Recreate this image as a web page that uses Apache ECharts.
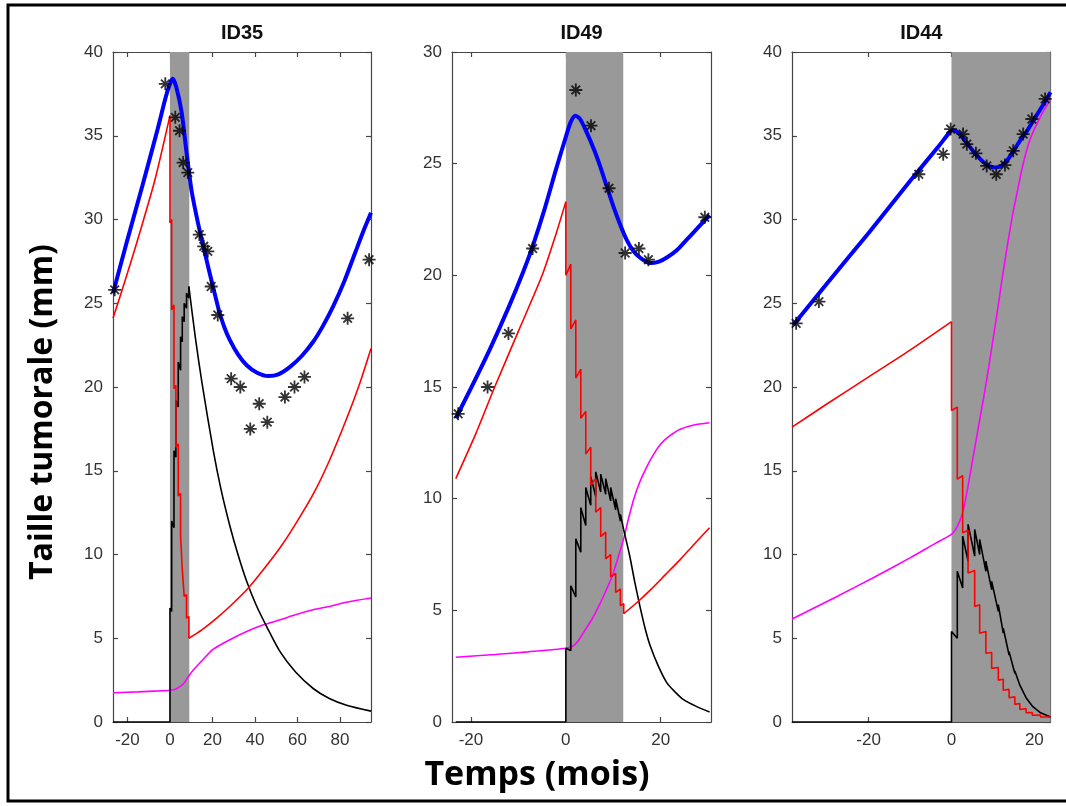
<!DOCTYPE html>
<html><head><meta charset="utf-8">
<script src="https://cdn.jsdelivr.net/npm/echarts@6/dist/echarts.min.js"></script>
<style>html,body{margin:0;padding:0;background:#fff}#c{width:1066px;height:806px}</style>
</head><body><div id="c"></div>
<script>
// ---------- DATA ----------
const panelTitles = ['ID35', 'ID49', 'ID44'];
const xRanges = [[-26.8, 94.6], [-24, 30.6], [-38.5, 23.9]];
const yMaxes = [40, 30, 40];
const xTicks = [[-20, 0, 20, 40, 60, 80], [-20, 0, 20], [-20, 0, 20]];
const treatBands = [[0, 9.1], [0, 12.1], [0, 23.9]];

// ID35
const id35_obs = [[-26,25.8],[-2.2,38.1],[2.5,36.1],[4.5,35.3],[6.2,33.4],[8.4,32.8],[13.8,29.1],[15.9,28.4],[17.8,28.1],[19.4,26.0],[22.5,24.3],[28.8,20.5],[33.1,20.0],[37.8,17.5],[42,19.0],[45.8,17.9],[54.1,19.4],[58.6,20.0],[63.3,20.6],[83.6,24.1],[93.7,27.6]];
const id35_fit = [[-26.8,25.6],[-20,28.8],[-13,32.0],[-6,35.3],[-2,37.3],[0,38.1],[1.3,38.4],[3,37.9],[5.5,36.4],[7.8,34.0],[10.2,31.7],[13,29.9],[15.7,28.4],[18.5,26.9],[21.2,25.5],[23,24.6],[25.5,23.6],[28.2,22.8],[32,21.95],[36.1,21.3],[41,20.85],[46.3,20.65],[51,20.75],[56.5,21.2],[62,21.85],[67.4,22.7],[72,23.65],[76.9,24.85],[82,26.3],[87.1,28.0],[91,29.3],[94.6,30.4]];
const id35_red_pre = [[-26.8,24.1],[-20,26.8],[-14,29.3],[-7,32.4],[0,36.2]];
const id35_red_dose = [[0,36.2],[0,29.8],[0.8,30.0],[0.8,24.6],[1.9,24.9],[1.9,19.9],[2.8,20.1],[2.8,16.4],[3.9,16.6],[3.9,13.5],[5.0,13.65],[5.0,11.1],[5.8,11.2],[5.8,9.1],[6.7,9.2],[6.7,7.5],[7.8,7.6],[7.8,6.2],[8.9,6.3],[8.9,5.0]];
const id35_red_post = [[8.9,5.0],[15,5.5],[22,6.2],[29,7.0],[36.9,8.0],[44,9.1],[51.8,10.4],[59,11.8],[67.4,13.6],[75,15.6],[83.1,18.1],[89,20.1],[94.6,22.3]];
const id35_black_dose = [[-26.8,0],[0,0],[0,6.8],[0.8,6.6],[0.8,12.0],[1.9,11.6],[1.9,16.2],[2.8,15.8],[2.8,19.2],[3.9,18.8],[3.9,21.5],[5.0,21.0],[5.0,23.0],[5.8,22.7],[5.8,24.2],[6.7,23.9],[6.7,25.0],[7.8,24.7],[7.8,25.6],[8.9,25.3],[8.9,26.0]];
const id35_black_post = [[8.9,26.0],[12,22.9],[15,20.3],[20.4,16.2],[24,13.9],[28.2,11.7],[32,10.0],[36.1,8.4],[40.5,7.0],[45.5,5.7],[51.8,4.2],[59,3.0],[67.4,2.0],[75,1.4],[83.1,1.0],[94.6,0.65]];
const id35_mag = [[-26.8,1.75],[-15,1.8],[-5,1.86],[0,1.9],[2.5,1.95],[4.5,2.1],[6.5,2.3],[8.6,2.7],[11,3.1],[15.7,3.75],[20.4,4.35],[28,4.9],[36.1,5.4],[44,5.8],[51.8,6.1],[59,6.4],[67.4,6.7],[75,6.9],[83.1,7.15],[94.6,7.4]];

// ID49
const id49_obs = [[-22.7,13.8],[-16.5,15.0],[-12.1,17.4],[-7.0,21.2],[2.1,28.3],[5.3,26.7],[9.1,23.9],[12.5,21.0],[15.4,21.2],[17.4,20.7],[29.3,22.6]];
const id49_fit = [[-23.2,13.6],[-20,14.95],[-16,16.7],[-12,18.6],[-9,20.15],[-7,21.3],[-4.5,22.95],[-2,24.8],[0,26.2],[1,26.85],[2,27.15],[3,27.0],[4.4,26.4],[6,25.6],[7.2,24.9],[8.6,24.0],[10,23.1],[11.4,22.3],[12.8,21.6],[14.2,21.1],[15.6,20.8],[17.7,20.55],[19.5,20.6],[21.3,20.8],[23.5,21.15],[25.5,21.6],[27.7,22.1],[30.3,22.7]];
const id49_red_pre = [[-23.2,10.9],[-19,12.9],[-15,15.0],[-10,17.5],[-5,20.0],[-2,21.9],[0,23.3]];
const id49_red_dose = [[0,23.3],[0,20.0],[1.05,20.5],[1.05,17.6],[2.1,18.0],[2.1,15.4],[3.15,15.8],[3.15,13.6],[4.2,13.9],[4.2,12.0],[5.25,12.3],[5.25,10.6],[6.3,10.9],[6.3,9.4],[7.35,9.6],[7.35,8.3],[8.4,8.5],[8.4,7.3],[9.45,7.5],[9.45,6.5],[10.5,6.65],[10.5,5.8],[11.5,5.95],[11.5,5.2],[12.2,5.3],[12.2,4.85]];
const id49_red_post = [[12.2,4.85],[15,5.35],[18,5.95],[21,6.6],[24,7.25],[27,7.95],[30.3,8.7]];
const id49_black_dose = [[-23.2,0],[0,0],[0,3.3],[1.05,3.2],[1.05,6.1],[2.1,5.6],[2.1,8.2],[3.15,7.6],[3.15,9.6],[4.2,8.8],[4.2,10.5],[5.25,9.7],[5.25,11.0],[6.3,10.1],[6.3,11.2],[7.35,10.3],[7.35,11.1],[8.4,10.2],[8.4,10.9],[9.45,9.9],[9.45,10.5],[10.5,9.5],[10.5,10.0],[11.5,9.0],[11.5,9.3],[12.2,8.6]];
const id49_black_post = [[12.2,8.6],[13.5,7.4],[14.5,6.3],[15.6,5.2],[16.7,4.2],[17.8,3.4],[19.5,2.5],[21.3,1.75],[23,1.35],[24.8,1.0],[27.5,0.7],[30.3,0.45]];
const id49_mag = [[-23.2,2.9],[-15,3.02],[-8,3.14],[0,3.3],[1.5,3.4],[2.5,3.6],[3.7,4.0],[5.5,4.6],[7.2,5.3],[8.5,5.9],[9.8,6.55],[11,7.35],[12.3,8.3],[13.2,9.1],[14.2,9.9],[15.5,10.7],[17,11.4],[18.4,11.95],[20,12.45],[21.8,12.8],[24,13.1],[27,13.3],[30.3,13.4]];

// ID44
const id44_obs = [[-37.5,23.8],[-32,25.1],[-7.9,32.7],[-2,33.9],[-0.2,35.4],[2.8,35.1],[3.7,34.5],[5.9,33.95],[8.5,33.2],[10.8,32.7],[12.9,33.25],[14.9,34.1],[17.3,35.1],[19.4,36.0],[22.6,37.2]];
const id44_fit = [[-38.2,23.7],[-30,26.2],[-20,29.2],[-10,32.3],[-3,34.4],[-0.8,35.1],[0.3,35.35],[1.5,35.2],[3,34.8],[4.4,34.35],[6,33.85],[7.6,33.45],[9,33.2],[10.5,33.1],[12,33.2],[13.5,33.55],[14.9,34.05],[16.5,34.7],[18,35.2],[19.5,35.8],[21,36.4],[22.5,37.0],[23.9,37.6]];
const id44_red_pre = [[-38.5,17.6],[-30,19.0],[-20,20.6],[-10,22.2],[0,23.9]];
const id44_red_dose = [[0,23.9],[0,18.6],[1.4,18.8],[1.4,14.5],[2.7,14.7],[2.7,11.3],[4.0,11.45],[4.0,8.9],[5.6,9.05],[5.6,6.9],[6.8,7.0],[6.8,5.3],[8.3,5.4],[8.3,4.1],[9.7,4.15],[9.7,3.2],[11.3,3.25],[11.3,2.5],[12.5,2.55],[12.5,1.9],[13.9,1.95],[13.9,1.45],[15.3,1.5],[15.3,1.05],[16.5,1.1],[16.5,0.75],[18,0.8],[18,0.55],[19.5,0.57],[19.5,0.4],[21.5,0.42],[21.5,0.3],[23.9,0.3]];
const id44_black_dose = [[-38.5,0],[0,0],[0,5.4],[1.4,5.0],[1.4,9.0],[2.7,8.0],[2.7,11.1],[4.0,9.6],[4.0,11.8],[5.6,9.9],[5.6,11.5],[6.8,10.0],[6.8,10.9],[8.3,9.0],[8.3,9.6],[9.7,7.9],[9.7,8.4],[11.3,6.6],[11.3,7.0],[12.5,5.3],[12.5,5.6],[13.9,4.0],[13.9,4.2],[15.3,2.9],[15.3,3.05],[16.5,2.2],[16.5,2.3],[18,1.45],[18,1.55],[19.5,0.95],[19.5,1.0],[21.5,0.55],[23.9,0.3]];
const id44_mag = [[-38.5,6.15],[-28,7.45],[-19,8.6],[-10,9.8],[-4,10.65],[0,11.2],[1,11.5],[2,12.0],[3,12.8],[4,14.1],[5,15.5],[6,16.9],[7,18.3],[8,19.7],[9,21.2],[10,22.8],[11,24.4],[12,26.1],[13,27.7],[14,29.2],[15,30.6],[16,31.8],[17,33.0],[18,34.0],[19,34.8],[20,35.4],[21,35.9],[22,36.4],[23,36.8],[23.9,37.2]];

// ---------- CHART ----------
const panels = [
  {obs: id35_obs, fit: id35_fit, redS: [id35_red_pre, id35_red_post], redL: [id35_red_dose], blackS: [id35_black_post], blackL: [id35_black_dose], mag: id35_mag},
  {obs: id49_obs, fit: id49_fit, redS: [id49_red_pre, id49_red_post], redL: [id49_red_dose], blackS: [id49_black_post], blackL: [id49_black_dose], mag: id49_mag},
  {obs: id44_obs, fit: id44_fit, redS: [id44_red_pre], redL: [id44_red_dose], blackS: [], blackL: [id44_black_dose], mag: id44_mag}
];

const grids = [
  {left: 113, top: 52, width: 258, height: 670},
  {left: 452, top: 52, width: 259, height: 670},
  {left: 792, top: 52, width: 258.5, height: 670}
];

const axisCol = '#454545';
const tickFont = {color: '#333', fontSize: 17, fontFamily: 'Liberation Sans, Arial, sans-serif'};
const xAxes = [], yAxes = [];
grids.forEach((g, i) => {
  ['bottom', 'top'].forEach(pos => {
    xAxes.push({
      type: 'value', gridIndex: i, position: pos,
      min: xRanges[i][0], max: xRanges[i][1],
      axisLine: {show: true, onZero: false, lineStyle: {color: axisCol, width: 1.2}},
      axisTick: {show: true, inside: true, length: 5, customValues: xTicks[i], lineStyle: {color: axisCol, width: 1.2}},
      axisLabel: Object.assign({show: pos === 'bottom', customValues: xTicks[i], margin: 10}, tickFont),
      splitLine: {show: false}
    });
  });
  ['left', 'right'].forEach(pos => {
    yAxes.push({
      type: 'value', gridIndex: i, position: pos,
      min: 0, max: yMaxes[i], interval: 5,
      axisLine: {show: true, onZero: false, lineStyle: {color: axisCol, width: 1.2}},
      axisTick: {show: true, inside: true, length: 5, lineStyle: {color: axisCol, width: 1.2}},
      axisLabel: Object.assign({show: pos === 'left', margin: 10}, tickFont),
      splitLine: {show: false}
    });
  });
});

// bold asterisk marker (MATLAB '*')
const starPath = 'path://M8.6 0L11.4 0L11.4 20L8.6 20Z M0 8.6L20 8.6L20 11.4L0 11.4Z M2.4 4.4L4.4 2.4L17.6 15.6L15.6 17.6Z M15.6 2.4L17.6 4.4L4.4 17.6L2.4 15.6Z';

const series = [];
function line(i, data, color, width, smooth, z) {
  series.push({
    type: 'line', xAxisIndex: 2 * i, yAxisIndex: 2 * i, data: data,
    showSymbol: false, symbol: 'none', smooth: smooth, silent: true,
    lineStyle: {color: color, width: width}, z: z, clip: true
  });
}
panels.forEach((p, i) => {
  series.push({
    type: 'line', xAxisIndex: 2 * i, yAxisIndex: 2 * i, data: [[treatBands[i][0], 0], [treatBands[i][1], 0]],
    symbol: 'none', lineStyle: {width: 0, opacity: 0}, silent: true, z: 1,
    markArea: {silent: true, itemStyle: {color: '#999999', opacity: 1, borderWidth: 0},
      data: [[{xAxis: treatBands[i][0], yAxis: 0}, {xAxis: treatBands[i][1], yAxis: yMaxes[i]}]]}
  });
  line(i, p.mag, '#ff00ff', 1.6, 0.25, 3);
  p.blackL.forEach(d => line(i, d, '#000000', 1.6, false, 4));
  p.blackS.forEach(d => line(i, d, '#000000', 1.6, 0.25, 4));
  p.redL.forEach(d => line(i, d, '#ff0000', 1.6, false, 5));
  p.redS.forEach(d => line(i, d, '#ff0000', 1.6, 0.25, 5));
  line(i, p.fit, '#0000ff', 4, 0.25, 6);
  series.push({
    type: 'scatter', xAxisIndex: 2 * i, yAxisIndex: 2 * i, data: p.obs,
    symbol: starPath, symbolSize: 13, itemStyle: {color: '#000'}, silent: true, z: 7
  });
});

const chart = echarts.init(document.getElementById('c'), null, {renderer: 'canvas'});
chart.setOption({
  animation: false,
  backgroundColor: '#ffffff',
  title: panelTitles.map((t, i) => ({
    text: t, left: grids[i].left + grids[i].width / 2, top: 23, textAlign: 'center', padding: 0,
    textStyle: {fontSize: 20, fontWeight: 'bold', color: '#111', fontFamily: 'Liberation Sans, Arial, sans-serif'}
  })),
  grid: grids,
  xAxis: xAxes,
  yAxis: yAxes,
  series: series,
  graphic: [
    {type: 'rect', silent: true, z: 100, shape: {x: 8, y: 5, width: 1075, height: 796},
     style: {fill: null, stroke: '#000', lineWidth: 3}},
    {type: 'text', silent: true, x: 43, y: 412, rotation: Math.PI / 2,
     style: {text: 'Taille tumorale (mm)', font: 'bold 32px "Open Sans", sans-serif', fill: '#000', align: 'center', verticalAlign: 'middle'}},
    {type: 'text', silent: true, x: 537, y: 775,
     style: {text: 'Temps (mois)', font: 'bold 34px "Open Sans", sans-serif', fill: '#000', align: 'center', verticalAlign: 'middle'}}
  ]
});
</script>
</body></html>
